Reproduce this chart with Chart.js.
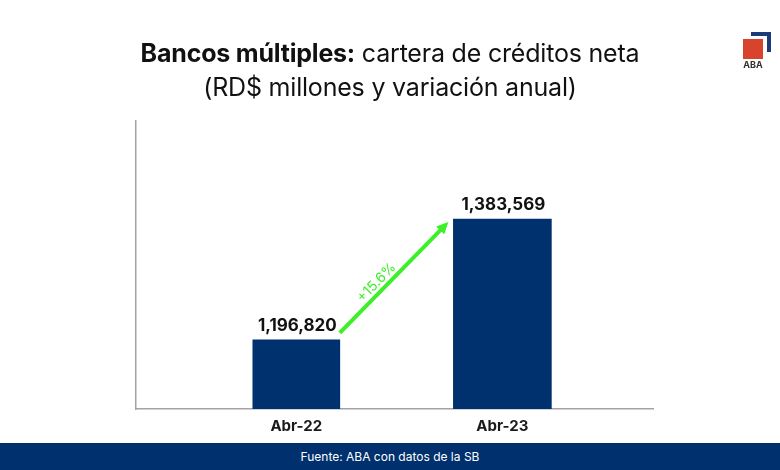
<!DOCTYPE html>
<html lang="es">
<head>
<meta charset="utf-8">
<title>Bancos múltiples: cartera de créditos neta</title>
<script src="https://cdn.jsdelivr.net/npm/chart.js@4.4.1/dist/chart.umd.min.js"></script>
<style>
	html, body { margin: 0; padding: 0; background: #fff; }
	#wrap { position: relative; width: 780px; height: 470px; overflow: hidden; font-family: 'Inter', 'Noto Sans', sans-serif; }
	#chart { position: absolute; left: 0; top: 0; }
	.titulo { position: absolute; left: 0; width: 780px; text-align: center; color: #111; font-size: 25px; letter-spacing: -0.2px; white-space: nowrap; }
	.titulo b { font-weight: 700; }
	#t1 { top: 38px; }
	#t2 { top: 72px; }
	#pie { position: absolute; left: 0; top: 443px; width: 780px; height: 27px; background: #00306d; color: #fff; font-size: 12px; line-height: 27px; text-align: center; }
	#logo-red { position: absolute; left: 743px; top: 39px; width: 20px; height: 20px; background: #d8432e; }
	#logo-blue { position: absolute; left: 751px; top: 32px; width: 16px; height: 16px; border-top: 4px solid #1f3a78; border-right: 4px solid #1f3a78; }
	#logo-txt { position: absolute; left: 733px; top: 59px; width: 40px; text-align: center; font-size: 9px; font-weight: 700; color: #333; }
</style>
</head>
<body>
<div id="wrap">
	<canvas id="chart" width="780" height="470"></canvas>
	<div class="titulo" id="t1"><b>Bancos múltiples:</b> cartera de créditos neta</div>
	<div class="titulo" id="t2">(RD$ millones y variación anual)</div>
	<div id="logo-blue"></div>
	<div id="logo-red"></div>
	<div id="logo-txt">ABA</div>
	<div id="pie">Fuente: ABA con datos de la SB</div>
</div>
<script>
(function () {
	'use strict';

	// Datos del gráfico
	const periodos = ['Abr-22', 'Abr-23'];
	const cartera = [1196820, 1383569];
	const variacion = '+15.6%';

	const azul = '#00316f';
	const verde = '#3cf028';
	const ejeColor = '#a3a3a3';

	// Un dataset por barra para poder dar a cada una su ancho
	const anchos = [87, 98];
	const datasets = cartera.map(function (valor, i) {
		return {
			data: [{ x: i, y: valor }],
			backgroundColor: azul,
			barThickness: anchos[i],
			grouped: false
		};
	});

	/**
	 * Etiquetas de valor y flecha de variación
	 */
	const anotaciones = {
		id: 'anotaciones',
		afterDatasetsDraw: function (chart) {
			const ctx = chart.ctx;
			const b1 = chart.getDatasetMeta(0).data[0];
			const b2 = chart.getDatasetMeta(1).data[0];

			ctx.save();

			// Valores sobre las barras
			ctx.font = 'bold 17px Inter, "Noto Sans", sans-serif';
			ctx.fillStyle = '#111';
			ctx.textAlign = 'center';
			ctx.textBaseline = 'alphabetic';
			[b1, b2].forEach(function (bar, i) {
				ctx.fillText(cartera[i].toLocaleString('en-US'), bar.x + 1, bar.y - 9);
			});

			// Flecha entre las dos barras
			const x0 = b1.x + b1.width / 2;
			const y0 = b1.y - 7;
			const x1 = b2.x - b2.width / 2 - 5;
			const y1 = b2.y + 3;
			const ang = Math.atan2(y1 - y0, x1 - x0);
			const cabeza = 13;

			ctx.strokeStyle = verde;
			ctx.fillStyle = verde;
			ctx.lineWidth = 4;
			ctx.beginPath();
			ctx.moveTo(x0, y0);
			ctx.lineTo(x1 - Math.cos(ang) * (cabeza - 2), y1 - Math.sin(ang) * (cabeza - 2));
			ctx.stroke();

			ctx.beginPath();
			ctx.moveTo(x1, y1);
			ctx.lineTo(x1 - cabeza * Math.cos(ang - 0.45), y1 - cabeza * Math.sin(ang - 0.45));
			ctx.lineTo(x1 - cabeza * Math.cos(ang + 0.45), y1 - cabeza * Math.sin(ang + 0.45));
			ctx.closePath();
			ctx.fill();

			// Texto de variación girado sobre la flecha
			const mx = (x0 + x1) / 2 - 16 * Math.cos(ang) + 9 * Math.sin(ang);
			const my = (y0 + y1) / 2 - 16 * Math.sin(ang) - 9 * Math.cos(ang);
			ctx.translate(mx, my);
			ctx.rotate(ang);
			ctx.font = '14px Inter, "Noto Sans", sans-serif';
			ctx.textBaseline = 'middle';
			ctx.fillText(variacion, 0, 0);

			ctx.restore();
		}
	};

	new Chart(document.getElementById('chart'), {
		type: 'bar',
		data: { datasets: datasets },
		options: {
			responsive: false,
			animation: false,
			events: [],
			layout: {
				padding: { left: 136, right: 127, top: 121, bottom: 21 }
			},
			plugins: {
				legend: { display: false },
				tooltip: { enabled: false }
			},
			scales: {
				x: {
					type: 'linear',
					offset: false,
					min: -0.778,
					max: 1.731,
					grid: { display: false, drawTicks: false, offset: false },
					border: { display: true, color: ejeColor, width: 1.5 },
					afterBuildTicks: function (scale) {
						scale.ticks = periodos.map(function (p, i) { return { value: i }; });
					},
					afterFit: function (scale) { scale.height = 40; },
					ticks: {
						padding: 8,
						color: '#1a1a1a',
						font: { family: 'Inter, "Noto Sans", sans-serif', size: 15, weight: 'bold' },
						callback: function (value) { return periodos[value] || ''; }
					}
				},
				y: {
					min: 1090000,
					max: 1535000,
					grid: { display: false, drawTicks: false },
					border: { display: true, color: ejeColor, width: 1.5 },
					ticks: { display: false },
					afterFit: function (scale) { scale.width = 0; }
				}
			}
		},
		plugins: [anotaciones]
	});
})();
</script>
</body>
</html>
